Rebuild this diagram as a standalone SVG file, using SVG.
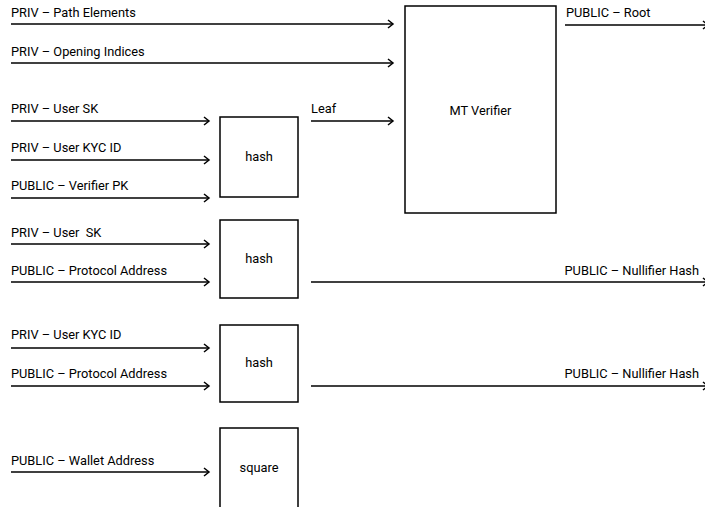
<svg xmlns="http://www.w3.org/2000/svg" width="705" height="507" viewBox="0 0 705 507">
<style>
text{font-family:Roboto,"Liberation Sans",sans-serif;font-size:12.8px;fill:#000;white-space:pre}
.c{text-anchor:middle}
.e{text-anchor:end}
.box{fill:#fff;stroke:#000;stroke-width:1.5}
.ln{stroke:#000;stroke-width:1.5;fill:none;marker-end:url(#ah)}
</style>
<defs>
<marker id="ah" markerUnits="userSpaceOnUse" markerWidth="10" markerHeight="12" refX="6" refY="5" orient="auto" viewBox="0 0 10 10">
<path d="M1,1 L6,5 L1,9" fill="none" stroke="#000" stroke-width="1.5"/>
</marker>
</defs>
<rect width="705" height="507" fill="#fff"/>
<g id="connectors">
<line class="ln" x1="11" y1="24" x2="393" y2="24"/>
<line class="ln" x1="11" y1="63" x2="393" y2="63"/>
<line class="ln" x1="11" y1="121" x2="209" y2="121"/>
<line class="ln" x1="11" y1="160" x2="209" y2="160"/>
<line class="ln" x1="11" y1="198" x2="209" y2="198"/>
<line class="ln" x1="311" y1="121" x2="393" y2="121"/>
<line class="ln" x1="565" y1="25" x2="708" y2="25"/>
<line class="ln" x1="11" y1="244" x2="209" y2="244"/>
<line class="ln" x1="11" y1="282" x2="209" y2="282"/>
<line class="ln" x1="311" y1="282" x2="708" y2="282"/>
<line class="ln" x1="11" y1="348" x2="209" y2="348"/>
<line class="ln" x1="11" y1="386" x2="209" y2="386"/>
<line class="ln" x1="311" y1="386" x2="708" y2="386"/>
<line class="ln" x1="11" y1="472" x2="209" y2="472"/>
<text x="11" y="17">PRIV – Path Elements</text>
<text x="11" y="56">PRIV – Opening Indices</text>
<text x="11" y="113">PRIV – User SK</text>
<text x="11" y="152">PRIV – User KYC ID</text>
<text x="11" y="190">PUBLIC – Verifier PK</text>
<text x="311" y="113">Leaf</text>
<text x="566" y="17">PUBLIC – Root</text>
<text x="11" y="237">PRIV – User  SK</text>
<text x="11" y="275">PUBLIC – Protocol Address</text>
<text class="e" x="699" y="275">PUBLIC – Nullifier Hash</text>
<text x="11" y="339">PRIV – User KYC ID</text>
<text x="11" y="378">PUBLIC – Protocol Address</text>
<text class="e" x="699" y="378">PUBLIC – Nullifier Hash</text>
<text x="11" y="465">PUBLIC – Wallet Address</text>
</g>
<g id="mt-verifier">
<rect class="box" x="405" y="6" width="151" height="207"/>
<text class="c" x="480.5" y="115">MT Verifier</text>
</g>
<g id="hash1">
<rect class="box" x="220" y="117" width="78" height="80"/>
<text class="c" x="259" y="161">hash</text>
</g>
<g id="hash2">
<rect class="box" x="220" y="220" width="78" height="78"/>
<text class="c" x="259" y="263">hash</text>
</g>
<g id="hash3">
<rect class="box" x="220" y="325" width="78" height="77"/>
<text class="c" x="259" y="367">hash</text>
</g>
<g id="square">
<rect class="box" x="220" y="428" width="78" height="81"/>
<text class="c" x="259" y="472">square</text>
</g>
</svg>
